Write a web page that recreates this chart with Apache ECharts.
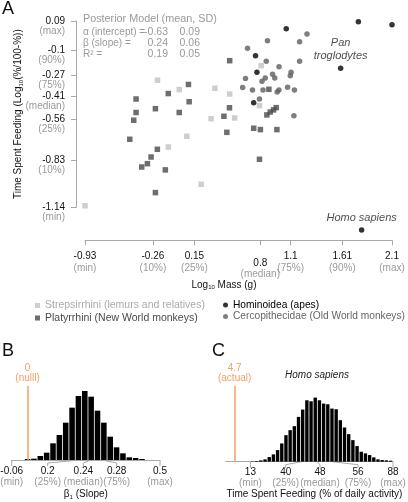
<!DOCTYPE html>
<html><head><meta charset="utf-8">
<script src="https://cdn.jsdelivr.net/npm/echarts@6/dist/echarts.min.js"></script>
<style>html,body{margin:0;padding:0;background:#fff}#c{width:408px;height:502px}</style>
</head><body><div id="c"></div>
<script>
// ---------------- Panel A data: [log10 mass (g), log10(%/(100-%)) feeding] ----------------
const strepsirrhini = [
  [-0.214,-0.301],[0.00,-0.363],[0.352,-0.354],[0.498,-0.392],[0.809,-0.205],[0.792,-0.469],
  [0.315,-0.555],[0.547,-0.550],[0.075,-0.671],[-0.107,-0.742],[0.216,-0.988],[-0.93,-1.13]
];
const platyrrhini = [
  [0.091,-0.329],[-0.108,-0.389],[-0.426,-0.425],[0.098,-0.443],[-0.426,-0.514],[-0.235,-0.489],
  [0.00,-0.514],[-0.449,-0.565],[0.498,-0.172],[0.496,-0.483],[0.441,-0.539],[0.885,-0.361],
  [0.957,-0.482],[0.931,-0.497],[0.898,-0.511],[0.865,-0.530],[0.735,-0.618],[0.801,-0.627],
  [0.964,-0.627],[0.470,-0.645],[-0.488,-0.691],[-0.216,-0.757],[-0.278,-0.808],[-0.314,-0.852],
  [-0.370,-0.874],[-0.137,-0.893],[-0.235,-1.043],[0.792,-0.823]
];
const hominoidea = [
  [1.056,0.039],[1.768,0.085],[2.10,0.066],[0.753,-0.139],[1.593,-0.222],[0.767,-0.249],
  [0.735,-0.449],[1.80,-1.29]
];
const hominoidLabels = ['', '', '', '', 'Pan\ntroglodytes', '', '', 'Homo sapiens'];
const cercopithecidae = [
  [1.261,0.004],[0.871,-0.040],[1.188,-0.047],[0.674,-0.090],[0.859,-0.176],[1.188,-0.176],
  [0.985,-0.212],[0.921,-0.262],[0.943,-0.286],[1.104,-0.249],[1.096,-0.271],[0.849,-0.286],
  [0.817,-0.308],[0.654,-0.290],[0.626,-0.349],[0.723,-0.365],[0.827,-0.365],[0.984,-0.365],
  [0.967,-0.379],[1.069,-0.348],[1.137,-0.365],[0.792,-0.425],[1.132,-0.535]
];
const groupNames = ['Strepsirrhini (lemurs and relatives)', 'Platyrrhini (New World monkeys)',
                    'Hominoidea (apes)', 'Cercopithecidae (Old World monkeys)'];
const xTickValues = [-0.93, -0.26, 0.15, 0.8, 1.1, 1.61, 2.1];
const xTickNotes  = ['(min)', '(10%)', '(25%)', '(median)', '(75%)', '(90%)', '(max)'];
const yTickValues = [0.09, -0.1, -0.27, -0.41, -0.56, -0.83, -1.14];
const yTickNotes  = ['(max)', '(90%)', '(75%)', '(median)', '(25%)', '(10%)', '(min)'];
const modelTitle = 'Posterior Model (mean, SD)';
const modelTerms = ['α (intercept) =', 'β (slope) =', 'R² ='];
const modelMeans = ['-0.63', '0.24', '0.19'];
const modelSDs   = ['0.09', '0.06', '0.05'];

// ---------------- Panel B data: posterior of slope ----------------
const slopeBinStart = -0.012, slopeBinWidth = 0.024;
const slopeCounts = [3,4,12,22,50,75,112,157,192,207,190,148,112,70,38,20,8,6,3];
const slopeTickValues = [-0.06, 0.2, 0.24, 0.28, 0.5];
const slopeTickNotes  = ['(min)', '(25%)', '(median)', '(75%)', '(max)'];
const slopeNull = 0;

// ---------------- Panel C data: predicted feeding time for Homo sapiens ----------------
const feedBinStart = 13, feedBinWidth = 2.2;
const feedCounts = [1,2,4,7,14,22,35,55,80,95,107,135,157,185,182,193,185,175,173,160,
                    158,125,103,83,65,47,30,25,20,13,7,5,4,3];
const feedTickValues = [13, 40, 48, 56, 88];
const feedTickNotes  = ['(min)', '(25%)', '(median)', '(75%)', '(max)'];
const humanActual = 4.7;

// ---------------- layout / style ----------------
const FONT = '"Liberation Sans", Arial, Helvetica, sans-serif';
const GREY = '#9a9a9a';
const AXIS = '#a9a9a9';
const ORANGE = '#f2a063';
const xLabelDrop = [0, 0, 0, 1, 0, 0, 0];
const slopeLabelSlots = [null, 47.7, 83.3, 116.7, null];
const feedLabelSlots  = [null, 285.7, 320, 358, null];

const chart = echarts.init(document.getElementById('c'), null, {renderer: 'canvas'});

function hist(start, width, counts) {
  return counts.map((c, i) => [start + i * width, start + (i + 1) * width, c]);
}
function histItem(params, api) {
  const p0 = api.coord([api.value(0), 0]);
  const p1 = api.coord([api.value(1), api.value(2)]);
  return {type: 'rect',
    shape: {x: p0[0] + 0.4, y: p1[1], width: Math.max(0.5, p1[0] - p0[0] - 0.8), height: p0[1] - p1[1]},
    style: {fill: '#000'}};
}
const labRich = {
  n: {fontSize: 10, color: '#111', lineHeight: 12, fontFamily: FONT},
  g: {fontSize: 10, color: GREY, lineHeight: 12, fontFamily: FONT},
  s: {fontSize: 1, lineHeight: 7},
  g2: {fontSize: 10, color: GREY, lineHeight: 10, fontFamily: FONT},
  e: {fontSize: 1, lineHeight: 10},
  yn: {fontSize: 10, color: '#111', lineHeight: 10, fontFamily: FONT},
  yg: {fontSize: 10, color: GREY, lineHeight: 10, fontFamily: FONT}
};
const nameRich = {
  t: {fontSize: 10, color: '#111', fontFamily: FONT},
  s: {fontSize: 6, color: '#111', fontFamily: FONT, padding: [5, 0, 0, 0]}
};
function idx(arr, v) { return arr.findIndex(t => Math.abs(t - v) < 1e-6); }

const scatterBase = {type: 'scatter', xAxisIndex: 0, yAxisIndex: 0, clip: false,
  emphasis: {disabled: true}, silent: true};

const option = {
  animation: false,
  textStyle: {fontFamily: FONT},
  grid: [
    {left: 85, right: 16, top: 21, bottom: 294.7, outerBoundsMode: 'none', containLabel: false},
    {left: 11.7, right: 248, top: 386, bottom: 42, outerBoundsMode: 'none', containLabel: false},
    {left: 225.7, right: 15, top: 386, bottom: 40.3, outerBoundsMode: 'none', containLabel: false}
  ],
  xAxis: [
    {gridIndex: 0, type: 'value', min: -0.93, max: 2.1, offset: 33,
     axisLine: {onZero: false, lineStyle: {color: AXIS}},
     axisTick: {customValues: xTickValues, length: 5, lineStyle: {color: AXIS}},
     axisLabel: {customValues: xTickValues, margin: 10, rich: labRich,
       formatter: v => { const i = idx(xTickValues, v); if (i < 0) return '';
         return xLabelDrop[i] ? `{s|\u00a0}\n{n|${String(xTickValues[i])}}\n{g2|${xTickNotes[i]}}`
                              : `{n|${String(xTickValues[i])}}\n{g|${xTickNotes[i]}}`; }},
     splitLine: {show: false},
     name: '{t|Log}{s|10}{t| Mass (g)}', nameLocation: 'middle', nameGap: 39, nameMoveOverlap: false,
     nameTextStyle: {rich: nameRich, padding: [0, 29, 0, 0]}},
    {gridIndex: 1, type: 'value', min: -0.06, max: 0.5,
     axisLine: {onZero: false, lineStyle: {color: AXIS}}, axisTick: {show: false}, axisLabel: {show: false},
     splitLine: {show: false},
     name: '{t|β}{s|1}{t| (Slope)}', nameLocation: 'middle', nameGap: 29, nameMoveOverlap: false,
     nameTextStyle: {rich: nameRich}},
    {gridIndex: 2, type: 'value', min: 0, max: 88,
     axisLine: {onZero: false, lineStyle: {color: AXIS}}, axisTick: {show: false}, axisLabel: {show: false},
     splitLine: {show: false},
     name: 'Time Spent Feeding (% of daily activity)', nameLocation: 'middle', nameGap: 28, nameMoveOverlap: false,
     nameTextStyle: {fontSize: 10, color: '#111', padding: [0, 0, 0, 10]}}
  ],
  yAxis: [
    {gridIndex: 0, type: 'value', min: -1.14, max: 0.09, offset: 9,
     axisLine: {onZero: false, lineStyle: {color: AXIS}},
     axisTick: {customValues: yTickValues, length: 5, lineStyle: {color: AXIS}},
     axisLabel: {customValues: yTickValues, margin: 11, rich: labRich,
       formatter: v => { const i = idx(yTickValues, v); if (i < 0) return '';
         return `{e|\u00a0}\n{yn|${String(yTickValues[i])}}\n{yg|${yTickNotes[i]}}`; }},
     splitLine: {show: false},
     name: '{t|Time Spent Feeding (Log}{s|10}{t|(%/100-%))}', nameLocation: 'middle', nameGap: 52,
     nameMoveOverlap: false, nameTextStyle: {rich: nameRich}},
    {gridIndex: 1, type: 'value', min: 0, max: 222, show: false},
    {gridIndex: 2, type: 'value', min: 0, max: 228, show: false}
  ],
  legend: [
    {left: 30, top: 295, orient: 'vertical', itemWidth: 5, itemHeight: 5, itemGap: 1.5, selectedMode: false,
     textStyle: {fontSize: 10.5, fontFamily: FONT},
     data: [{name: groupNames[0], icon: 'rect', textStyle: {color: '#aaaaaa'}},
            {name: groupNames[1], icon: 'rect', textStyle: {color: '#4a4a4a'}}]},
    {left: 218, top: 295, orient: 'vertical', itemWidth: 5, itemHeight: 5, itemGap: 1.5, selectedMode: false,
     textStyle: {fontSize: 10.2, fontFamily: FONT},
     data: [{name: groupNames[2], icon: 'circle', textStyle: {color: '#000000'}},
            {name: groupNames[3], icon: 'circle', textStyle: {color: '#666666'}}]}
  ],
  series: [
    Object.assign({}, scatterBase, {name: groupNames[0], symbol: 'rect', symbolSize: 5.5,
      itemStyle: {color: '#c2c2c2'}, data: strepsirrhini}),
    Object.assign({}, scatterBase, {name: groupNames[1], symbol: 'rect', symbolSize: 5.5,
      itemStyle: {color: '#4a4a4a'}, data: platyrrhini}),
    Object.assign({}, scatterBase, {name: groupNames[3], symbol: 'circle', symbolSize: 5.5,
      itemStyle: {color: '#5e5e5e'}, data: cercopithecidae}),
    Object.assign({}, scatterBase, {name: groupNames[2], symbol: 'circle', symbolSize: 5.5,
      itemStyle: {color: '#000'},
      data: hominoidea.map((p, i) => hominoidLabels[i] ? {value: p, label: {show: true,
        formatter: hominoidLabels[i], position: 'top', distance: 3, fontSize: 11, fontStyle: 'italic',
        color: '#222', lineHeight: 13, fontFamily: FONT}} : p)}),
    {type: 'custom', name: 'slope', xAxisIndex: 1, yAxisIndex: 1, silent: true,
     renderItem: histItem, encode: {x: [0, 1], y: 2},
     data: hist(slopeBinStart, slopeBinWidth, slopeCounts),
     markLine: {silent: true, symbol: 'none', animation: false,
       lineStyle: {color: ORANGE, width: 1.5, type: 'solid'},
       label: {position: 'end', formatter: String(slopeNull) + '\n(nulll)', color: ORANGE,
               fontSize: 10, lineHeight: 10, distance: 3, fontFamily: FONT},
       emphasis: {disabled: true},
       data: [{xAxis: slopeNull}]}},
    {type: 'custom', name: 'feeding', xAxisIndex: 2, yAxisIndex: 2, silent: true,
     renderItem: histItem, encode: {x: [0, 1], y: 2},
     data: hist(feedBinStart, feedBinWidth, feedCounts),
     markLine: {silent: true, symbol: 'none', animation: false,
       lineStyle: {color: ORANGE, width: 1.5, type: 'solid'},
       label: {position: 'end', formatter: String(humanActual) + '\n(actual)', color: ORANGE,
               fontSize: 10, lineHeight: 10, distance: 3, fontFamily: FONT},
       emphasis: {disabled: true},
       data: [{xAxis: humanActual}]}}
  ]
};
chart.setOption(option);

// ---------- static texts ----------
const g = [];
function txt(id, x, y, text, opt) {
  g.push({type: 'text', id, x, y, silent: true,
    style: Object.assign({text, fill: '#111', fontSize: 10, fontFamily: FONT, align: 'left', verticalAlign: 'middle'}, opt || {})});
}
txt('lA', 2, 9, 'A', {fontSize: 18});
txt('lB', 2, 351, 'B', {fontSize: 18});
txt('lC', 212, 351, 'C', {fontSize: 18});
txt('mt', 83, 19, modelTitle, {fill: GREY, fontSize: 10.8});
modelTerms.forEach((t, i) => {
  const y = 32 + i * 11;
  txt('mt' + i, 83, y, t, {fill: GREY, fontSize: 10});
  txt('mm' + i, 168, y, modelMeans[i], {fill: GREY, align: 'right', fontSize: 10.5});
  txt('ms' + i, 200, y, modelSDs[i], {fill: GREY, align: 'right', fontSize: 10.5});
});
txt('hs', 317, 375, 'Homo sapiens', {align: 'center', fontStyle: 'italic', fill: '#222'});

// ---------- tick labels with leader lines for panels B and C ----------
function ticks(prefix, axisIndex, values, notes, slots, labelTop) {
  const axisY = chart.convertToPixel({yAxisIndex: axisIndex}, 0);
  values.forEach((v, i) => {
    const tx = chart.convertToPixel({xAxisIndex: axisIndex}, v);
    const sx = slots[i] == null ? tx : slots[i];
    g.push({type: 'polyline', id: prefix + 'l' + i, silent: true,
      shape: {points: [[tx, axisY], [sx, axisY + 3], [sx, axisY + 6]]},
      style: {stroke: AXIS, lineWidth: 1, fill: null}});
    g.push({type: 'text', id: prefix + 't' + i, x: sx, y: labelTop, silent: true,
      style: {text: `{n|${String(v)}}\n{g|${notes[i]}}`, align: 'center', verticalAlign: 'top',
        rich: {n: {fontSize: 10, fill: '#111', lineHeight: 11, fontFamily: FONT},
               g: {fontSize: 10, fill: GREY, lineHeight: 10, fontFamily: FONT}}}});
  });
}
ticks('b', 1, slopeTickValues, slopeTickNotes, slopeLabelSlots, 466);
ticks('c', 2, feedTickValues, feedTickNotes, feedLabelSlots, 467);
chart.setOption({graphic: g});
</script></body></html>
